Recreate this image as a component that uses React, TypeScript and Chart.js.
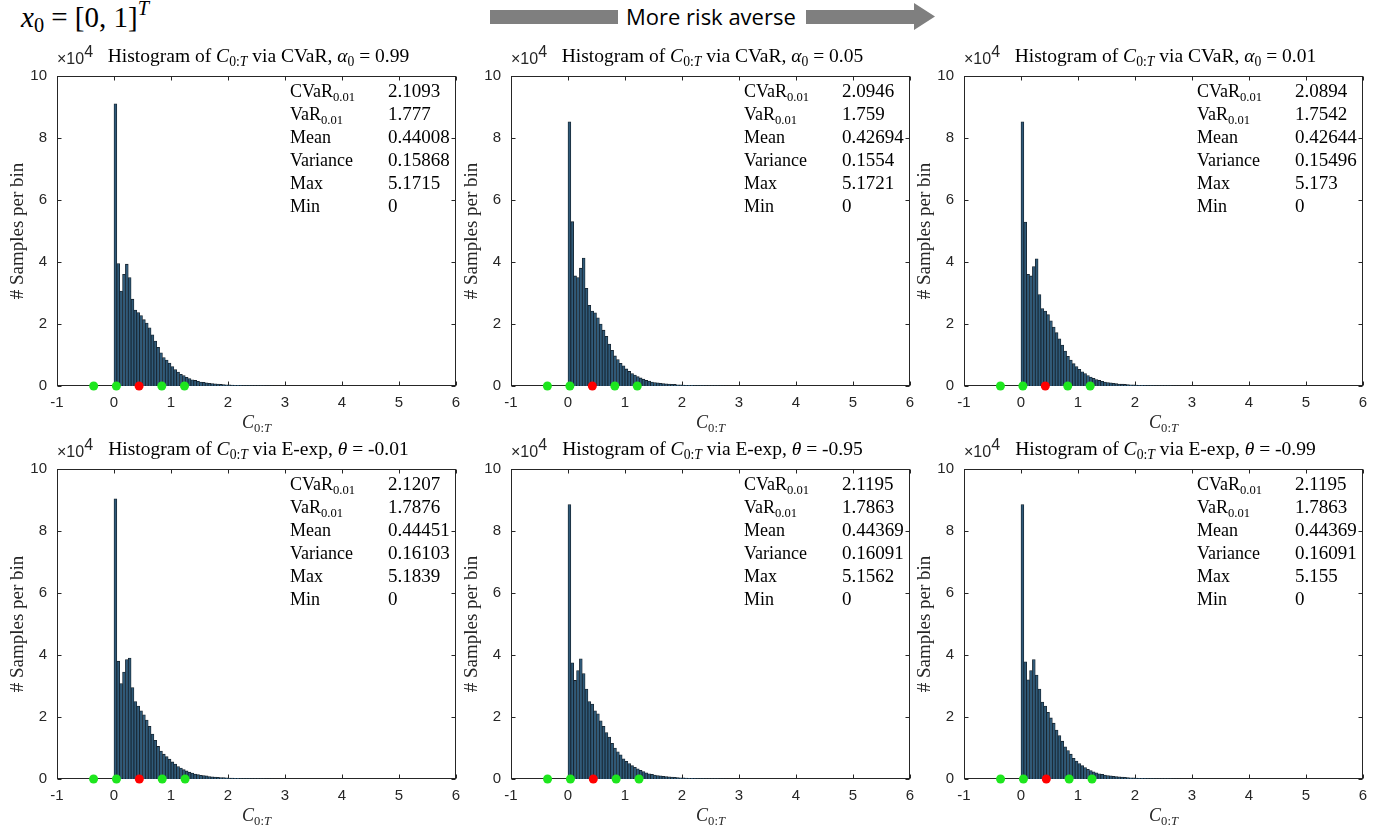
import React, { useEffect, useRef } from "react";
import { Chart, registerables } from "chart.js";

Chart.register(...registerables);

// ---------------- data ----------------
// Histogram bin width on the C_{0:T} axis; counts are in units of 10^4 samples per bin.
const BIN_WIDTH = 0.05;

const countsCvar099 = [9.1, 3.95, 3.06, 3.6, 3.93, 3.5, 2.8, 2.45, 2.37, 2.27, 2.14, 2.03, 1.88, 1.65, 1.45, 1.25, 1.07, 0.92, 0.84, 0.74, 0.63, 0.53, 0.45, 0.38, 0.34, 0.28, 0.24, 0.2, 0.18, 0.15, 0.13, 0.12, 0.1, 0.09, 0.08, 0.07, 0.06, 0.05, 0.045, 0.04, 0.035, 0.03, 0.025, 0.02, 0.018, 0.015, 0.012, 0.01, 0.008, 0.006, 0.005, 0.004, 0.003, 0.002, 0.002, 0.001];
const countsCvar005 = [8.52, 5.3, 3.55, 3.5, 3.8, 4.13, 3.15, 2.6, 2.42, 2.36, 2.2, 2.0, 1.8, 1.6, 1.35, 1.15, 0.97, 0.85, 0.73, 0.65, 0.55, 0.47, 0.4, 0.35, 0.3, 0.26, 0.22, 0.18, 0.16, 0.13, 0.11, 0.1, 0.09, 0.08, 0.07, 0.06, 0.055, 0.05, 0.04, 0.035, 0.03, 0.025, 0.022, 0.02, 0.017, 0.014, 0.012, 0.01, 0.008, 0.006, 0.005, 0.004, 0.003, 0.002, 0.002, 0.001];
const countsCvar001 = [8.52, 5.29, 3.6, 3.55, 3.85, 4.1, 2.95, 2.5, 2.42, 2.3, 2.1, 1.9, 1.72, 1.52, 1.32, 1.13, 0.96, 0.84, 0.72, 0.63, 0.54, 0.46, 0.4, 0.34, 0.29, 0.25, 0.21, 0.18, 0.15, 0.13, 0.11, 0.1, 0.085, 0.075, 0.065, 0.058, 0.05, 0.045, 0.04, 0.034, 0.03, 0.025, 0.021, 0.018, 0.015, 0.013, 0.011, 0.009, 0.007, 0.006, 0.005, 0.004, 0.003, 0.002, 0.0015, 0.001];
const countsEexp001 = [9.04, 3.8, 3.08, 3.45, 3.85, 3.9, 2.95, 2.5, 2.35, 2.2, 2.07, 1.9, 1.7, 1.45, 1.25, 1.05, 0.9, 0.8, 0.72, 0.64, 0.55, 0.48, 0.4, 0.35, 0.3, 0.26, 0.22, 0.19, 0.16, 0.14, 0.12, 0.11, 0.1, 0.08, 0.07, 0.062, 0.055, 0.048, 0.042, 0.036, 0.031, 0.027, 0.023, 0.02, 0.017, 0.014, 0.012, 0.01, 0.008, 0.006, 0.005, 0.004, 0.003, 0.002, 0.002, 0.001];
const countsEexp095 = [8.85, 3.75, 3.18, 3.5, 3.88, 3.4, 2.9, 2.5, 2.42, 2.2, 2.1, 1.88, 1.7, 1.5, 1.35, 1.15, 1.0, 0.88, 0.78, 0.65, 0.57, 0.5, 0.43, 0.38, 0.33, 0.28, 0.24, 0.2, 0.17, 0.15, 0.13, 0.11, 0.1, 0.09, 0.08, 0.07, 0.06, 0.052, 0.045, 0.04, 0.034, 0.029, 0.025, 0.021, 0.018, 0.015, 0.012, 0.01, 0.008, 0.006, 0.005, 0.004, 0.003, 0.002, 0.002, 0.001];
const countsEexp099 = [8.85, 3.78, 3.2, 3.5, 3.85, 3.35, 2.9, 2.48, 2.35, 2.15, 1.97, 1.8, 1.58, 1.4, 1.22, 1.04, 0.92, 0.8, 0.67, 0.58, 0.5, 0.43, 0.37, 0.31, 0.27, 0.23, 0.2, 0.17, 0.15, 0.13, 0.11, 0.1, 0.09, 0.08, 0.07, 0.06, 0.052, 0.045, 0.04, 0.034, 0.029, 0.025, 0.021, 0.018, 0.015, 0.012, 0.01, 0.008, 0.007, 0.006, 0.005, 0.004, 0.003, 0.002, 0.002, 0.001];

const panelCounts = [countsCvar099, countsCvar005, countsCvar001, countsEexp001, countsEexp095, countsEexp099];

const methods = ["CVaR", "CVaR", "CVaR", "E-exp", "E-exp", "E-exp"];
const paramSymbols = ["α", "α", "α", "θ", "θ", "θ"];
const paramHasSub = [true, true, true, false, false, false];
const paramValues = ["0.99", "0.05", "0.01", "-0.01", "-0.95", "-0.99"];

const cvarValues = [2.1093, 2.0946, 2.0894, 2.1207, 2.1195, 2.1195];
const varValues = [1.777, 1.759, 1.7542, 1.7876, 1.7863, 1.7863];
const meanValues = [0.44008, 0.42694, 0.42644, 0.44451, 0.44369, 0.44369];
const varianceValues = [0.15868, 0.1554, 0.15496, 0.16103, 0.16091, 0.16091];
const maxValues = [5.1715, 5.1721, 5.173, 5.1839, 5.1562, 5.155];
const minValues = [0, 0, 0, 0, 0, 0];

// dots on the axis: mean - 2σ, mean - σ, mean, mean + σ, mean + 2σ
const sigmaMultiples = [-2, -1, 0, 1, 2];

// ---------------- layout ----------------
const COL_LEFT = [57, 511, 964];
const ROW_TOP = [69, 462];
const PLOT_W = 399;
const PLOT_H = 317;
const Y_AXIS_W = 55;
const X_AXIS_H = 32;
const PAD_T = 12;
const PAD_R = 14;

const SERIF = '"Liberation Serif", "Times New Roman", serif';
const SANS = '"Liberation Sans", Arial, sans-serif';
const AXIS_COLOR = "#262626";

const boxPlugin = {
  id: "matlabBox",
  beforeDatasetsDraw(chart: any) {
    const { ctx, chartArea: a, scales } = chart;
    const xs = scales.x;
    const ys = scales.y;
    ctx.save();
    ctx.strokeStyle = AXIS_COLOR;
    ctx.lineWidth = 1;
    const L = Math.round(a.left) + 0.5;
    const R = Math.round(a.right) - 0.5;
    const T = Math.round(a.top) + 0.5;
    const B = Math.round(a.bottom) - 0.5;
    ctx.strokeRect(L, T, R - L, B - T);
    const tl = 4;
    ctx.beginPath();
    xs.ticks.forEach((t: any) => {
      const px = Math.round(xs.getPixelForValue(t.value)) + 0.5;
      ctx.moveTo(px, B);
      ctx.lineTo(px, B - tl);
      ctx.moveTo(px, T);
      ctx.lineTo(px, T + tl);
    });
    ys.ticks.forEach((t: any) => {
      const py = Math.round(ys.getPixelForValue(t.value)) + 0.5;
      ctx.moveTo(L, py);
      ctx.lineTo(L + tl, py);
      ctx.moveTo(R, py);
      ctx.lineTo(R - tl, py);
    });
    ctx.stroke();
    ctx.restore();
  },
};

const subStyle: React.CSSProperties = { fontSize: "0.7em", lineHeight: 0, verticalAlign: "-0.3em" };

function Panel({ idx }: { idx: number }) {
  const ref = useRef<HTMLCanvasElement | null>(null);
  const col = idx % 3;
  const row = Math.floor(idx / 3);
  const L = COL_LEFT[col];
  const T = ROW_TOP[row];

  useEffect(() => {
    const counts = panelCounts[idx];
    const bars = counts.map((c, i) => ({ x: (i + 0.5) * BIN_WIDTH, y: c }));
    const sd = Math.sqrt(varianceValues[idx]);
    const dots = sigmaMultiples.map((k) => ({ x: meanValues[idx] + k * sd, y: 0 }));
    const chart = new Chart(ref.current as HTMLCanvasElement, {
      type: "bar",
      data: {
        datasets: [
          {
            type: "scatter",
            data: dots,
            pointRadius: 4.5,
            pointBorderWidth: 0,
            pointBackgroundColor: sigmaMultiples.map((k) => (k === 0 ? "#ff0000" : "#1ee61e")),
            order: 0,
            clip: false,
          } as any,
          {
            type: "bar",
            data: bars,
            backgroundColor: "#2f5a79",
            borderColor: "#15202a",
            borderWidth: 0.8,
            barPercentage: 1,
            categoryPercentage: 1,
            grouped: false,
            order: 1,
          } as any,
        ],
      },
      options: {
        animation: false,
        responsive: false,
        maintainAspectRatio: false,
        events: [],
        layout: { padding: { top: PAD_T, right: PAD_R, left: 0, bottom: 0 } },
        plugins: { legend: { display: false }, tooltip: { enabled: false }, title: { display: false } },
        scales: {
          x: {
            type: "linear",
            min: -1,
            max: 6,
            offset: false,
            grid: { display: false, drawTicks: false, offset: false },
            border: { display: false },
            ticks: { stepSize: 1, autoSkip: false, maxRotation: 0, padding: 8, color: AXIS_COLOR, font: { family: SANS, size: 15 } },
            afterFit: (s: any) => {
              s.height = X_AXIS_H;
            },
          },
          y: {
            type: "linear",
            min: 0,
            max: 10,
            grid: { display: false, drawTicks: false },
            border: { display: false },
            ticks: { stepSize: 2, padding: 10, color: AXIS_COLOR, font: { family: SANS, size: 15 } },
            title: { display: true, text: "# Samples per bin", color: AXIS_COLOR, font: { family: SERIF, size: 19 }, padding: { top: 5, bottom: 0 } },
            afterFit: (s: any) => {
              s.width = Y_AXIS_W;
            },
          },
        } as any,
      },
      plugins: [boxPlugin],
    });
    return () => chart.destroy();
  }, [idx]);

  const statRows: [React.ReactNode, string][] = [
    [<span key="a">CVaR<sub style={subStyle}>0.01</sub></span>, String(cvarValues[idx])],
    [<span key="b">VaR<sub style={subStyle}>0.01</sub></span>, String(varValues[idx])],
    ["Mean", String(meanValues[idx])],
    ["Variance", String(varianceValues[idx])],
    ["Max", String(maxValues[idx])],
    ["Min", String(minValues[idx])],
  ];

  return (
    <>
      <canvas
        ref={ref}
        width={Y_AXIS_W + PLOT_W + PAD_R}
        height={PAD_T + PLOT_H + X_AXIS_H}
        style={{ position: "absolute", left: L - Y_AXIS_W, top: T - PAD_T, width: Y_AXIS_W + PLOT_W + PAD_R, height: PAD_T + PLOT_H + X_AXIS_H }}
      />
      {/* exponent label */}
      <div style={{ position: "absolute", left: L, top: T - 18, font: `16px ${SANS}`, lineHeight: "16px", color: AXIS_COLOR, whiteSpace: "nowrap" }}>
        ×10<sup style={{ fontSize: "1em", lineHeight: 0, verticalAlign: "0.45em" }}>4</sup>
      </div>
      {/* title */}
      <div style={{ position: "absolute", left: L + 2, width: PLOT_W, top: T - 23, textAlign: "center", font: `19.5px ${SERIF}`, lineHeight: "20px", color: "#000", whiteSpace: "nowrap" }}>
        Histogram of <i>C</i>
        <sub style={subStyle}>
          0:<i>T</i>
        </sub>{" "}
        via {methods[idx]}, <i>{paramSymbols[idx]}</i>
        {paramHasSub[idx] ? <sub style={subStyle}>0</sub> : null} = {paramValues[idx]}
      </div>
      {/* stats labels */}
      <div style={{ position: "absolute", left: L + 233, top: T + 11, font: `18px ${SERIF}`, lineHeight: "22.9px", color: "#000", whiteSpace: "nowrap" }}>
        {statRows.map((r, i) => (
          <div key={i}>{r[0]}</div>
        ))}
      </div>
      <div style={{ position: "absolute", left: L + 331, top: T + 11, font: `19px ${SERIF}`, lineHeight: "22.9px", color: "#000", whiteSpace: "nowrap" }}>
        {statRows.map((r, i) => (
          <div key={i}>{r[1]}</div>
        ))}
      </div>
      {/* x-axis title */}
      <div style={{ position: "absolute", left: L, width: PLOT_W, top: T + PLOT_H + 26, textAlign: "center", font: `18px ${SERIF}`, lineHeight: "20px", color: AXIS_COLOR, whiteSpace: "nowrap" }}>
        <i>C</i>
        <sub style={subStyle}>
          0:<i>T</i>
        </sub>
      </div>
    </>
  );
}

export default function App() {
  return (
    <div style={{ position: "absolute", left: 0, top: 0, width: 1391, height: 831, background: "#fff", overflow: "hidden" }}>
      {/* header: initial state */}
      <div style={{ position: "absolute", left: 21, top: 0, font: `29px ${SERIF}`, lineHeight: "34px", color: "#000", whiteSpace: "nowrap" }}>
        <i>x</i>
        <sub style={{ fontSize: "0.7em", lineHeight: 0, verticalAlign: "-0.25em" }}>0</sub> = [0, 1]
        <sup style={{ fontSize: "0.7em", lineHeight: 0, verticalAlign: "0.6em" }}>
          <i>T</i>
        </sup>
      </div>
      {/* header arrow */}
      <div style={{ position: "absolute", left: 490, top: 10, width: 128, height: 14, background: "#7f7f7f" }} />
      <div style={{ position: "absolute", left: 626, top: 0, font: `22px "Open Sans", Lato, sans-serif`, lineHeight: "32px", color: "#000", whiteSpace: "nowrap" }}>
        More risk averse
      </div>
      <svg style={{ position: "absolute", left: 0, top: 0 }} width={1391} height={40}>
        <polygon points="806,10 914,10 914,3 935,16.5 914,30 914,24 806,24" fill="#7f7f7f" />
      </svg>
      {[0, 1, 2, 3, 4, 5].map((i) => (
        <Panel key={i} idx={i} />
      ))}
    </div>
  );
}
